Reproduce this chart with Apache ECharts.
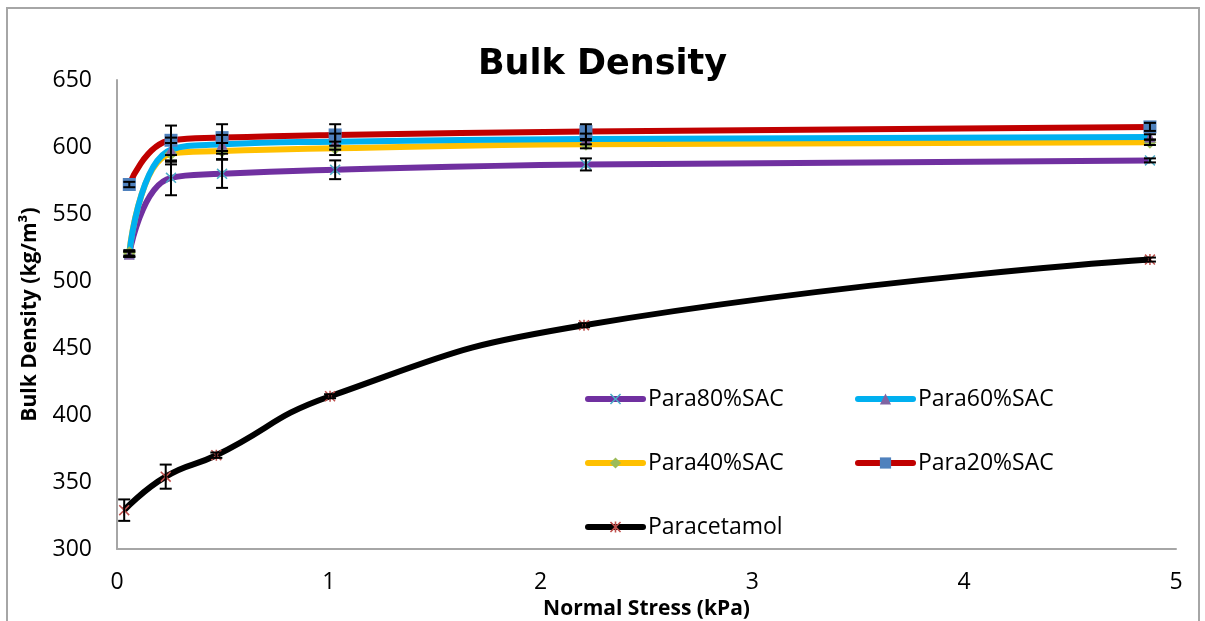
<!DOCTYPE html>
<html>
<head>
<meta charset="utf-8">
<script src="https://cdn.jsdelivr.net/npm/echarts@6/dist/echarts.min.js"></script>
<style>
    html, body { margin: 0; padding: 0; background: #fff; }
    #chart { width: 1205px; height: 621px; }
</style>
</head>
<body>
<div id="chart"></div>
<script>
// normal stress (kPa)
var stressSac = [0.058, 0.255, 0.496, 1.03, 2.214, 4.877];
var stressPara = [0.034, 0.23, 0.469, 1.006, 2.205, 4.877];

// bulk density (kg/m3)
var para80 = [520, 577, 580, 583, 587, 590];
var para60 = [520, 598, 602, 604, 606, 607.5];
var para40 = [521, 595, 597, 599, 602, 603.5];
var para20 = [572, 605, 607, 609, 611.5, 615];
var paracetamol = [329, 354, 370, 414, 467, 516];

// standard deviation (error bars)
var err80 = [2, 13, 10.5, 7, 4.5, 1.5];
var err60 = [2, 9, 7, 6, 4, 2];
var err40 = [2, 8, 6, 5, 3, 2];
var err20 = [2, 11, 10, 8, 5.5, 3];
var errPara = [8, 9, 2, 1.5, 1.5, 1.5];

var X_PATH = 'path://M1,0 L5,4 L9,0 L10,1 L6,5 L10,9 L9,10 L5,6 L1,10 L0,9 L4,5 L0,1 Z';
var STAR_PATH = 'path://M1,0 L5,4 L9,0 L10,1 L6,5 L10,9 L9,10 L5,6 L1,10 L0,9 L4,5 L0,1 Z M4.3,0 L5.7,0 L5.7,10 L4.3,10 Z';

function pairs(xs, ys) {
    return xs.map(function (x, i) { return [x, ys[i]]; });
}
function errData(xs, ys, es) {
    return xs.map(function (x, i) { return [x, ys[i], es[i]]; });
}

var chart = echarts.init(document.getElementById('chart'));

function lineSeries(name, xs, ys, lineColor, markColor, symbol, size) {
    return {
        name: name,
        type: 'line',
        smooth: 0.5,
        data: pairs(xs, ys),
        symbol: symbol,
        symbolSize: size,
        lineStyle: { color: lineColor, width: 6 },
        itemStyle: { color: markColor },
        z: 2
    };
}

function errSeries(xs, ys, es) {
    return {
        type: 'custom',
        data: errData(xs, ys, es),
        encode: { x: 0, y: 1 },
        z: 4,
        silent: true,
        renderItem: function (params, api) {
            var x = api.value(0), y = api.value(1), e = api.value(2);
            var hi = api.coord([x, y + e]);
            var lo = api.coord([x, y - e]);
            var w = 6;
            var st = { stroke: '#000', lineWidth: 2 };
            return {
                type: 'group',
                children: [
                    { type: 'line', shape: { x1: hi[0], y1: hi[1], x2: lo[0], y2: lo[1] }, style: st },
                    { type: 'line', shape: { x1: hi[0] - w, y1: hi[1], x2: hi[0] + w, y2: hi[1] }, style: st },
                    { type: 'line', shape: { x1: lo[0] - w, y1: lo[1], x2: lo[0] + w, y2: lo[1] }, style: st }
                ]
            };
        }
    };
}

var legendText = { fontFamily: 'Open Sans', fontSize: 23, color: '#000', lineHeight: 26 };
function legendAt(name, left, top) {
    return {
        data: [name],
        left: left,
        top: top,
        padding: 0,
        itemWidth: 55,
        itemHeight: 14,
        itemGap: 5,
        lineStyle: { width: 6, cap: 'round' },
        textStyle: legendText
    };
}

var option = {
    animation: false,
    backgroundColor: '#fff',
    title: {
        text: 'Bulk Density',
        left: 'center',
        top: 42,
        textStyle: { fontFamily: 'DejaVu Sans', fontWeight: 'bold', fontSize: 35, color: '#000' }
    },
    graphic: [{
        type: 'rect',
        shape: { x: 7, y: 8, width: 1192, height: 640 },
        style: { fill: 'none', stroke: '#a6a6a6', lineWidth: 2 },
        silent: true
    }],
    legend: [
        legendAt('Para80%SAC', 585, 386),
        legendAt('Para60%SAC', 855, 386),
        legendAt('Para40%SAC', 585, 450),
        legendAt('Para20%SAC', 855, 450),
        legendAt('Paracetamol', 585, 514)
    ],
    grid: {
        left: 117,
        right: 29,
        top: 80,
        bottom: 72,
        outerBoundsMode: 'none'
    },
    xAxis: {
        type: 'value',
        min: 0,
        max: 5,
        interval: 1,
        name: 'Normal Stress (kPa)',
        nameLocation: 'middle',
        nameGap: 46,
        nameTextStyle: { fontFamily: 'Open Sans', fontWeight: 'bold', fontSize: 21, color: '#000' },
        axisLine: { lineStyle: { color: '#a6a6a6', width: 2 } },
        axisTick: { show: false },
        splitLine: { show: false },
        axisLabel: { fontFamily: 'Open Sans', fontSize: 23, color: '#000', margin: 22 }
    },
    yAxis: {
        type: 'value',
        min: 300,
        max: 650,
        interval: 50,
        name: 'Bulk Density (kg/m³)',
        nameLocation: 'middle',
        nameGap: 76,
        nameTextStyle: { fontFamily: 'Open Sans', fontWeight: 'bold', fontSize: 21, color: '#000' },
        axisLine: { show: true, lineStyle: { color: '#a6a6a6', width: 2 } },
        axisTick: { show: false },
        splitLine: { show: false },
        axisLabel: { fontFamily: 'Open Sans', fontSize: 23, color: '#000', margin: 25 }
    },
    series: [
        lineSeries('Paracetamol', stressPara, paracetamol, '#000000', '#C0504D', STAR_PATH, 11),
        lineSeries('Para80%SAC', stressSac, para80, '#7030A0', '#4BACC6', X_PATH, 11),
        lineSeries('Para40%SAC', stressSac, para40, '#FFC000', '#9BBB59', 'diamond', 13),
        lineSeries('Para60%SAC', stressSac, para60, '#00B0F0', '#8064A2', 'triangle', 11),
        lineSeries('Para20%SAC', stressSac, para20, '#C00000', '#4F81BD', 'rect', 13),
        errSeries(stressPara, paracetamol, errPara),
        errSeries(stressSac, para80, err80),
        errSeries(stressSac, para40, err40),
        errSeries(stressSac, para60, err60),
        errSeries(stressSac, para20, err20)
    ]
};

chart.setOption(option);
</script>
</body>
</html>
